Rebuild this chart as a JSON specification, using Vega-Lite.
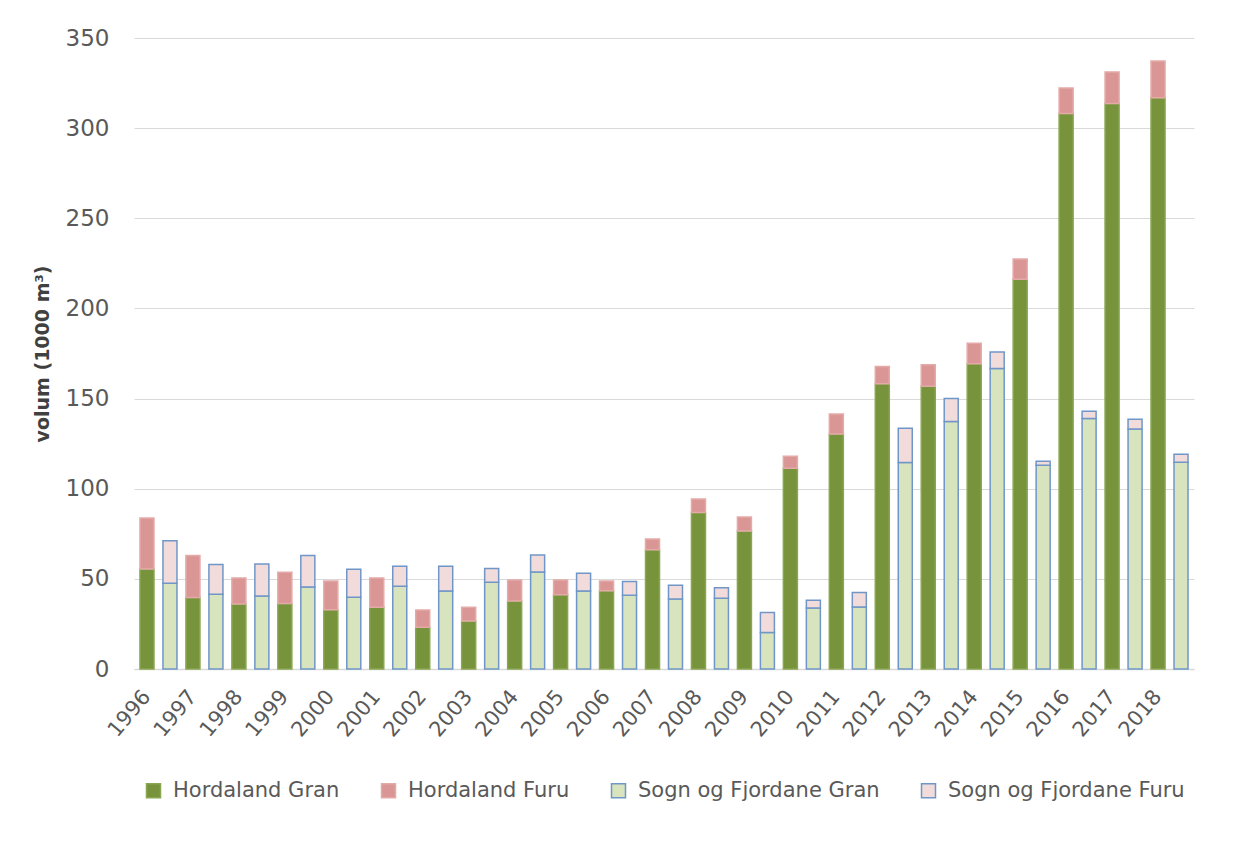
{
  "$schema": "https://vega.github.io/schema/vega-lite/v6.json",
  "autosize": {"type": "none"},
  "padding": {"left": 134, "top": 38, "right": 56, "bottom": 190},
  "width": 1060,
  "height": 631,
  "background": "white",
  "config": {
    "font": "DejaVu Sans",
    "view": {"stroke": null},
    "axis": {"labelColor": "#595959", "titleColor": "#404040"}
  },
  "data": {
    "values": [
      {"aar": "1996", "fylke": "Hordaland", "treslag": "Gran", "v": 55.5},
      {"aar": "1996", "fylke": "Hordaland", "treslag": "Furu", "v": 28.2},
      {"aar": "1996", "fylke": "Sogn og Fjordane", "treslag": "Gran", "v": 47.5},
      {"aar": "1996", "fylke": "Sogn og Fjordane", "treslag": "Furu", "v": 23.7},
      {"aar": "1997", "fylke": "Hordaland", "treslag": "Gran", "v": 39.6},
      {"aar": "1997", "fylke": "Hordaland", "treslag": "Furu", "v": 23.3},
      {"aar": "1997", "fylke": "Sogn og Fjordane", "treslag": "Gran", "v": 41.4},
      {"aar": "1997", "fylke": "Sogn og Fjordane", "treslag": "Furu", "v": 16.5},
      {"aar": "1998", "fylke": "Hordaland", "treslag": "Gran", "v": 36.1},
      {"aar": "1998", "fylke": "Hordaland", "treslag": "Furu", "v": 14.4},
      {"aar": "1998", "fylke": "Sogn og Fjordane", "treslag": "Gran", "v": 40.5},
      {"aar": "1998", "fylke": "Sogn og Fjordane", "treslag": "Furu", "v": 17.7},
      {"aar": "1999", "fylke": "Hordaland", "treslag": "Gran", "v": 36.4},
      {"aar": "1999", "fylke": "Hordaland", "treslag": "Furu", "v": 17.2},
      {"aar": "1999", "fylke": "Sogn og Fjordane", "treslag": "Gran", "v": 45.5},
      {"aar": "1999", "fylke": "Sogn og Fjordane", "treslag": "Furu", "v": 17.5},
      {"aar": "2000", "fylke": "Hordaland", "treslag": "Gran", "v": 32.9},
      {"aar": "2000", "fylke": "Hordaland", "treslag": "Furu", "v": 15.9},
      {"aar": "2000", "fylke": "Sogn og Fjordane", "treslag": "Gran", "v": 39.8},
      {"aar": "2000", "fylke": "Sogn og Fjordane", "treslag": "Furu", "v": 15.5},
      {"aar": "2001", "fylke": "Hordaland", "treslag": "Gran", "v": 34.2},
      {"aar": "2001", "fylke": "Hordaland", "treslag": "Furu", "v": 16.3},
      {"aar": "2001", "fylke": "Sogn og Fjordane", "treslag": "Gran", "v": 45.9},
      {"aar": "2001", "fylke": "Sogn og Fjordane", "treslag": "Furu", "v": 11.1},
      {"aar": "2002", "fylke": "Hordaland", "treslag": "Gran", "v": 23.1},
      {"aar": "2002", "fylke": "Hordaland", "treslag": "Furu", "v": 9.6},
      {"aar": "2002", "fylke": "Sogn og Fjordane", "treslag": "Gran", "v": 43.3},
      {"aar": "2002", "fylke": "Sogn og Fjordane", "treslag": "Furu", "v": 13.7},
      {"aar": "2003", "fylke": "Hordaland", "treslag": "Gran", "v": 26.6},
      {"aar": "2003", "fylke": "Hordaland", "treslag": "Furu", "v": 7.6},
      {"aar": "2003", "fylke": "Sogn og Fjordane", "treslag": "Gran", "v": 48.1},
      {"aar": "2003", "fylke": "Sogn og Fjordane", "treslag": "Furu", "v": 7.7},
      {"aar": "2004", "fylke": "Hordaland", "treslag": "Gran", "v": 37.7},
      {"aar": "2004", "fylke": "Hordaland", "treslag": "Furu", "v": 11.7},
      {"aar": "2004", "fylke": "Sogn og Fjordane", "treslag": "Gran", "v": 53.8},
      {"aar": "2004", "fylke": "Sogn og Fjordane", "treslag": "Furu", "v": 9.4},
      {"aar": "2005", "fylke": "Hordaland", "treslag": "Gran", "v": 41.2},
      {"aar": "2005", "fylke": "Hordaland", "treslag": "Furu", "v": 8.2},
      {"aar": "2005", "fylke": "Sogn og Fjordane", "treslag": "Gran", "v": 43.3},
      {"aar": "2005", "fylke": "Sogn og Fjordane", "treslag": "Furu", "v": 9.8},
      {"aar": "2006", "fylke": "Hordaland", "treslag": "Gran", "v": 43.4},
      {"aar": "2006", "fylke": "Hordaland", "treslag": "Furu", "v": 5.4},
      {"aar": "2006", "fylke": "Sogn og Fjordane", "treslag": "Gran", "v": 40.9},
      {"aar": "2006", "fylke": "Sogn og Fjordane", "treslag": "Furu", "v": 7.7},
      {"aar": "2007", "fylke": "Hordaland", "treslag": "Gran", "v": 66.2},
      {"aar": "2007", "fylke": "Hordaland", "treslag": "Furu", "v": 5.9},
      {"aar": "2007", "fylke": "Sogn og Fjordane", "treslag": "Gran", "v": 38.8},
      {"aar": "2007", "fylke": "Sogn og Fjordane", "treslag": "Furu", "v": 7.6},
      {"aar": "2008", "fylke": "Hordaland", "treslag": "Gran", "v": 86.8},
      {"aar": "2008", "fylke": "Hordaland", "treslag": "Furu", "v": 7.5},
      {"aar": "2008", "fylke": "Sogn og Fjordane", "treslag": "Gran", "v": 39.2},
      {"aar": "2008", "fylke": "Sogn og Fjordane", "treslag": "Furu", "v": 5.9},
      {"aar": "2009", "fylke": "Hordaland", "treslag": "Gran", "v": 76.5},
      {"aar": "2009", "fylke": "Hordaland", "treslag": "Furu", "v": 7.8},
      {"aar": "2009", "fylke": "Sogn og Fjordane", "treslag": "Gran", "v": 20.3},
      {"aar": "2009", "fylke": "Sogn og Fjordane", "treslag": "Furu", "v": 11.1},
      {"aar": "2010", "fylke": "Hordaland", "treslag": "Gran", "v": 111.3},
      {"aar": "2010", "fylke": "Hordaland", "treslag": "Furu", "v": 6.7},
      {"aar": "2010", "fylke": "Sogn og Fjordane", "treslag": "Gran", "v": 33.8},
      {"aar": "2010", "fylke": "Sogn og Fjordane", "treslag": "Furu", "v": 4.3},
      {"aar": "2011", "fylke": "Hordaland", "treslag": "Gran", "v": 130.3},
      {"aar": "2011", "fylke": "Hordaland", "treslag": "Furu", "v": 11.1},
      {"aar": "2011", "fylke": "Sogn og Fjordane", "treslag": "Gran", "v": 34.4},
      {"aar": "2011", "fylke": "Sogn og Fjordane", "treslag": "Furu", "v": 8.1},
      {"aar": "2012", "fylke": "Hordaland", "treslag": "Gran", "v": 158.2},
      {"aar": "2012", "fylke": "Hordaland", "treslag": "Furu", "v": 9.6},
      {"aar": "2012", "fylke": "Sogn og Fjordane", "treslag": "Gran", "v": 114.5},
      {"aar": "2012", "fylke": "Sogn og Fjordane", "treslag": "Furu", "v": 19.1},
      {"aar": "2013", "fylke": "Hordaland", "treslag": "Gran", "v": 156.9},
      {"aar": "2013", "fylke": "Hordaland", "treslag": "Furu", "v": 11.8},
      {"aar": "2013", "fylke": "Sogn og Fjordane", "treslag": "Gran", "v": 137.3},
      {"aar": "2013", "fylke": "Sogn og Fjordane", "treslag": "Furu", "v": 12.7},
      {"aar": "2014", "fylke": "Hordaland", "treslag": "Gran", "v": 169.3},
      {"aar": "2014", "fylke": "Hordaland", "treslag": "Furu", "v": 11.4},
      {"aar": "2014", "fylke": "Sogn og Fjordane", "treslag": "Gran", "v": 166.7},
      {"aar": "2014", "fylke": "Sogn og Fjordane", "treslag": "Furu", "v": 9.2},
      {"aar": "2015", "fylke": "Hordaland", "treslag": "Gran", "v": 216.2},
      {"aar": "2015", "fylke": "Hordaland", "treslag": "Furu", "v": 11.2},
      {"aar": "2015", "fylke": "Sogn og Fjordane", "treslag": "Gran", "v": 113.0},
      {"aar": "2015", "fylke": "Sogn og Fjordane", "treslag": "Furu", "v": 2.2},
      {"aar": "2016", "fylke": "Hordaland", "treslag": "Gran", "v": 308.1},
      {"aar": "2016", "fylke": "Hordaland", "treslag": "Furu", "v": 14.2},
      {"aar": "2016", "fylke": "Sogn og Fjordane", "treslag": "Gran", "v": 139.0},
      {"aar": "2016", "fylke": "Sogn og Fjordane", "treslag": "Furu", "v": 3.9},
      {"aar": "2017", "fylke": "Hordaland", "treslag": "Gran", "v": 313.6},
      {"aar": "2017", "fylke": "Hordaland", "treslag": "Furu", "v": 17.6},
      {"aar": "2017", "fylke": "Sogn og Fjordane", "treslag": "Gran", "v": 133.1},
      {"aar": "2017", "fylke": "Sogn og Fjordane", "treslag": "Furu", "v": 5.4},
      {"aar": "2018", "fylke": "Hordaland", "treslag": "Gran", "v": 316.9},
      {"aar": "2018", "fylke": "Hordaland", "treslag": "Furu", "v": 20.4},
      {"aar": "2018", "fylke": "Sogn og Fjordane", "treslag": "Gran", "v": 114.7},
      {"aar": "2018", "fylke": "Sogn og Fjordane", "treslag": "Furu", "v": 4.4}
    ]
  },
  "transform": [
    {"calculate": "datum.aar + '|' + datum.fylke", "as": "slot"},
    {"calculate": "datum.fylke + ' ' + datum.treslag", "as": "serie"}
  ],
  "mark": {"type": "bar", "strokeWidth": 1.5},
  "encoding": {
    "x": {
      "field": "slot",
      "type": "nominal",
      "sort": "ascending",
      "scale": {"paddingInner": 0.39, "paddingOuter": 0.26},
      "axis": {
        "title": null,
        "labelExpr": "indexof(datum.value, 'Hordaland') > 0 ? slice(datum.value, 0, 4) : ''",
        "labelAngle": -50,
        "labelFontSize": 21,
        "labelPadding": 24,
        "ticks": false,
        "domainColor": "#d9d9d9",
        "domainWidth": 1.5,
        "labelOverlap": false
      }
    },
    "y": {
      "field": "v",
      "type": "quantitative",
      "stack": "zero",
      "scale": {"domain": [0, 350], "nice": false},
      "axis": {
        "title": "volum (1000 m³)",
        "values": [0, 50, 100, 150, 200, 250, 300, 350],
        "labelFontSize": 23,
        "labelPadding": 25,
        "ticks": false,
        "domain": false,
        "gridColor": "#d9d9d9",
        "gridWidth": 1,
        "titleFontSize": 19,
        "titleFontWeight": "bold",
        "titleAngle": -90,
        "titleX": -92,
        "titleY": 315.5,
        "titleAlign": "center",
        "titleBaseline": "middle"
      }
    },
    "order": {"field": "treslag", "sort": "descending"},
    "color": {
      "field": "serie",
      "type": "nominal",
      "scale": {
        "domain": ["Hordaland Gran", "Hordaland Furu", "Sogn og Fjordane Gran", "Sogn og Fjordane Furu"],
        "range": ["#77933c", "#d99694", "#d7e4bd", "#f2dcdb"]
      },
      "legend": {
        "title": null,
        "orient": "none",
        "legendX": 9,
        "legendY": 742,
        "direction": "horizontal",
        "symbolType": "square",
        "symbolSize": 196,
        "symbolStrokeWidth": 1.5,
        "labelFontSize": 21,
        "labelColor": "#595959",
        "labelOffset": 9,
        "columnPadding": 38,
        "labelLimit": 400
      }
    },
    "stroke": {
      "field": "serie",
      "type": "nominal",
      "scale": {
        "domain": ["Hordaland Gran", "Hordaland Furu", "Sogn og Fjordane Gran", "Sogn og Fjordane Furu"],
        "range": ["#8aa650", "#e4aaa8", "#7096c8", "#7096c8"]
      },
      "legend": {
        "title": null,
        "orient": "none",
        "legendX": 9,
        "legendY": 742,
        "direction": "horizontal",
        "symbolType": "square",
        "symbolSize": 196,
        "symbolStrokeWidth": 1.5,
        "labelFontSize": 21,
        "labelColor": "#595959",
        "labelOffset": 9,
        "columnPadding": 38,
        "labelLimit": 400
      }
    }
  }
}
